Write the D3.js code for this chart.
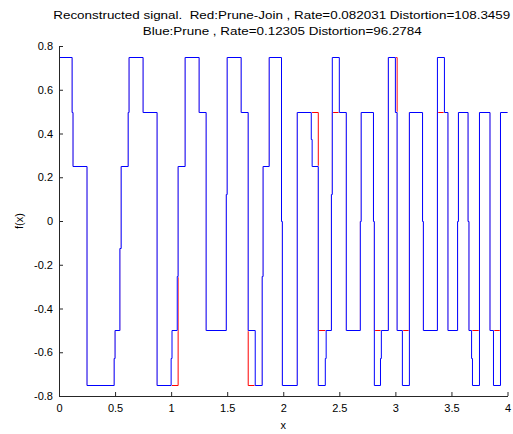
<!DOCTYPE html>
<html>
<head>
<meta charset="utf-8">
<script src="https://cdn.jsdelivr.net/npm/d3@7"></script>
<style>
  body { margin: 0; background: #fff; }
  svg { display: block; font-family: "Liberation Sans", Arial, sans-serif; }
</style>
</head>
<body>
<svg id="chart" width="513" height="434"></svg>
<script>
// step starts (x) and the level that holds until the next start
const blueX = [0, 0.1172, 0.125, 0.25, 0.4922, 0.5, 0.543, 0.5547, 0.6172, 0.625, 0.75, 0.875,
  1.0, 1.0078, 1.0547, 1.0625, 1.125, 1.25, 1.3125, 1.4922, 1.5, 1.625, 1.6875, 1.75, 1.8125, 1.8203,
  1.875, 1.9844, 1.9922, 2.125, 2.25, 2.2578, 2.3125, 2.375, 2.3828, 2.4297, 2.4375, 2.5, 2.5625,
  2.6875, 2.6953, 2.8047, 2.8125, 2.8672, 2.875, 2.9375, 3.0, 3.0156, 3.0625, 3.125, 3.2422, 3.25,
  3.375, 3.4375, 3.4688, 3.5547, 3.5625, 3.6484, 3.6563, 3.6797, 3.6875, 3.75, 3.8438, 3.875, 3.9375];
const blueY = [0.75, 0.5, 0.25, -0.75, -0.625, -0.5, -0.125, 0.25, 0.5, 0.75, 0.5, -0.75,
  -0.625, -0.5, -0.25, 0.25, 0.75, 0.5, -0.5, 0.125, 0.75, 0.5, -0.5, -0.75, -0.25, 0.25,
  0.75, 0, -0.75, 0.5, 0.375, 0.25, -0.75, -0.625, -0.5, 0.125, 0.75, 0.5, -0.5,
  0, 0.5, 0, -0.75, -0.625, -0.5, 0.75, 0.5, -0.5, -0.75, 0.5, 0, -0.5,
  0.75, 0.5, -0.5, 0, 0.5, 0, -0.5, -0.625, -0.75, 0.5, -0.5, -0.75, 0.5];

const redX = [0, 0.1172, 0.125, 0.25, 0.4922, 0.5, 0.543, 0.5547, 0.6172, 0.625, 0.75, 0.875,
  1.0625, 1.125, 1.25, 1.3125, 1.4922, 1.5, 1.625, 1.6875, 1.8125, 1.8203, 1.875, 1.9844, 1.9922,
  2.125, 2.3125, 2.4297, 2.4375, 2.5625, 2.6875, 2.6953, 2.8047, 2.8125, 2.9375, 3.0156, 3.125, 3.2422, 3.25,
  3.375, 3.4688, 3.5547, 3.5625, 3.6484, 3.6563, 3.75, 3.8438, 3.9375];
const redY = [0.75, 0.5, 0.25, -0.75, -0.625, -0.5, -0.125, 0.25, 0.5, 0.75, 0.5, -0.75,
  0.25, 0.75, 0.5, -0.5, 0.125, 0.75, 0.5, -0.75, -0.25, 0.25, 0.75, 0, -0.75,
  0.5, -0.5, 0.125, 0.5, -0.5, 0, 0.5, 0, -0.5, 0.75, -0.5, 0.5, 0, -0.5,
  0.5, -0.5, 0, 0.5, 0, -0.5, 0.5, -0.5, 0.5];

const xTicks = [0, 0.5, 1, 1.5, 2, 2.5, 3, 3.5, 4];
const yTicks = [-0.8, -0.6, -0.4, -0.2, 0, 0.2, 0.4, 0.6, 0.8];
const titleLines = [
  "Reconstructed signal.  Red:Prune-Join , Rate=0.082031 Distortion=108.3459",
  "Blue:Prune , Rate=0.12305 Distortion=96.2784"
];

var margin = { top: 46, right: 5.5, bottom: 38, left: 59 },
  width = 513 - margin.left - margin.right,
  height = 434 - margin.top - margin.bottom;

var svg = d3.select("#chart");
var g = svg.append("g").attr("transform", "translate(" + margin.left + "," + margin.top + ")");

var x = d3.scaleLinear().domain([0, 4]).range([0, width]);
var y = d3.scaleLinear().domain([-0.8, 0.8]).range([height, 0]);

function toPoints(xs, ys) {
  var pts = xs.map(function (v, i) { return [v, ys[i]]; });
  pts.push([4, ys[ys.length - 1]]);
  return pts;
}

// horizontals snapped to pixel rows (like the original renderer), verticals left soft
var line = d3.line()
  .x(function (d) { return x(d[0]); })
  .y(function (d) { return Math.round(y(d[1])) + 0.5; })
  .curve(d3.curveStepAfter);

var bluePts = toPoints(blueX, blueY);

g.append("path").datum(toPoints(redX, redY))
  .attr("fill", "none").attr("stroke", "#ff0000").attr("stroke-width", 1)
  .attr("d", line);
// blue is drawn on top of red; a thin white underlay keeps shared edges blue
g.append("path").datum(bluePts)
  .attr("fill", "none").attr("stroke", "#fff").attr("stroke-width", 1.6)
  .attr("d", line);
g.append("path").datum(bluePts)
  .attr("fill", "none").attr("stroke", "#0000ff").attr("stroke-width", 1)
  .attr("d", line);

// axes, MATLAB style: ticks pointing inward, no box
var xAxis = g.append("g").attr("transform", "translate(0," + height + ")")
  .call(d3.axisBottom(x).tickValues(xTicks).tickSizeInner(-4).tickSizeOuter(0).tickPadding(8)
    .tickFormat(function (d) { return String(d); }));
var yAxis = g.append("g")
  .call(d3.axisLeft(y).tickValues(yTicks).tickSizeInner(-4).tickSizeOuter(0).tickPadding(6)
    .tickFormat(function (d) { return String(Math.round(d * 10) / 10); }));

[xAxis, yAxis].forEach(function (a) {
  a.select(".domain").attr("stroke", "#262626");
  a.selectAll(".tick line").attr("stroke", "#262626");
  a.selectAll("text").attr("fill", "#000").style("font-size", "11px")
    .style("font-family", "'Liberation Sans', Arial, sans-serif");
});

// titles and labels
var cx = margin.left + width / 2;
svg.append("text").attr("x", cx - 1.5).attr("y", 19).attr("text-anchor", "middle")
  .attr("textLength", 457).attr("lengthAdjust", "spacingAndGlyphs")
  .style("white-space", "pre")
  .style("font-size", "11.5px").text(titleLines[0]);
svg.append("text").attr("x", cx - 1).attr("y", 35).attr("text-anchor", "middle")
  .attr("textLength", 279).attr("lengthAdjust", "spacingAndGlyphs")
  .style("white-space", "pre")
  .style("font-size", "11.5px").text(titleLines[1]);
svg.append("text").attr("x", cx).attr("y", 429).attr("text-anchor", "middle")
  .style("font-size", "11px").text("x");
svg.append("text").attr("transform", "translate(23," + (margin.top + height / 2) + ") rotate(-90)")
  .attr("text-anchor", "middle").style("font-size", "11px").text("f(x)");
</script>
</body>
</html>
